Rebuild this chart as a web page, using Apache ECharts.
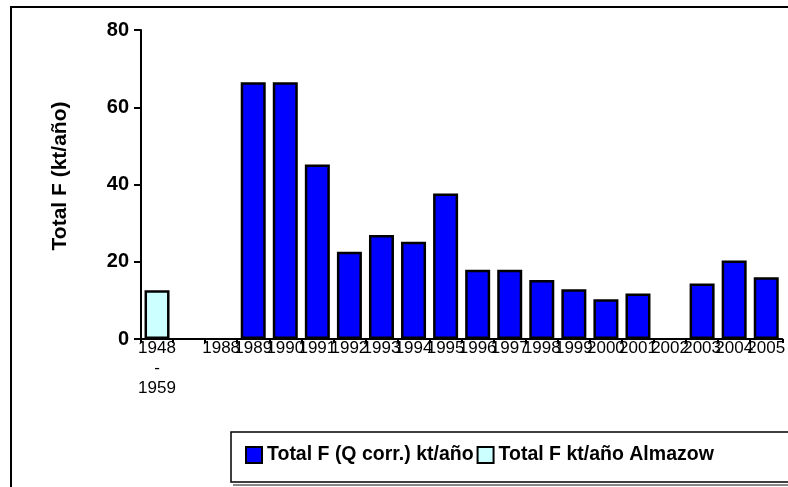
<!DOCTYPE html>
<html>
<head>
<meta charset="utf-8">
<script src="https://cdn.jsdelivr.net/npm/echarts@6/dist/echarts.min.js"></script>
<style>html,body{margin:0;padding:0;background:#fff;}#c{width:788px;height:487px;}</style>
</head>
<body>
<div id="c"></div>
<script>
const categories = ["1948\n-\n1959", "", "1988", "1989", "1990", "1991", "1992", "1993", "1994", "1995", "1996", "1997", "1998", "1999", "2000", "2001", "2002", "2003", "2004", "2005"];
const totalFQcorr = [null, null, null, 66.5, 66.5, 45.2, 22.6, 26.9, 25.2, 37.7, 17.9, 17.9, 15.3, 12.9, 10.3, 11.8, null, 14.4, 20.3, 16.0];
const totalFAlmazow = [12.6, null, null, null, null, null, null, null, null, null, null, null, null, null, null, null, null, null, null, null];
const yTicks = [0, 20, 40, 60, 80];
const seriesNames = ["Total F (Q corr.) kt/año", "Total F kt/año Almazow"];
const yTitle = "Total F (kt/año)";

const chart = echarts.init(document.getElementById('c'), null, {renderer: 'canvas'});
chart.setOption({
  animation: false,
  backgroundColor: '#ffffff',
  grid: {left: 141, right: 0, top: 30, bottom: 148, containLabel: false},
  graphic: [
    {type: 'rect', shape: {x: 11, y: 7, width: 820, height: 520}, style: {fill: 'none', stroke: '#000', lineWidth: 2}, z: 0},
    {type: 'rect', shape: {x: 233, y: 484, width: 600, height: 2}, style: {fill: '#888'}, z: 1},
    {type: 'rect', shape: {x: 231, y: 432, width: 600, height: 50}, style: {fill: '#fff', stroke: '#000', lineWidth: 1.5}, z: 1},
    {type: 'text', x: 60, y: 176, rotation: Math.PI / 2,
     style: {text: yTitle, fontFamily: 'Liberation Sans, Arial, sans-serif', fontWeight: 'bold', fontSize: 21, fill: '#000', align: 'center', verticalAlign: 'middle'}, z: 5}
  ],
  legend: {
    left: 240, top: 440,
    itemWidth: 16, itemHeight: 16, itemGap: 3,
    icon: 'rect',
    itemStyle: {borderColor: '#000', borderWidth: 2},
    textStyle: {fontFamily: 'Liberation Sans, Arial, sans-serif', fontWeight: 'bold', fontSize: 19.5, color: '#000'},
    data: seriesNames,
    z: 5
  },
  xAxis: {
    type: 'category',
    data: categories,
    axisLine: {lineStyle: {color: '#000', width: 2}},
    axisTick: {show: true, alignWithLabel: false, length: 4, lineStyle: {color: '#000', width: 2}, interval: 0},
    axisLabel: {interval: 0, margin: -1, fontFamily: 'Liberation Sans Narrow, Arial Narrow, sans-serif', fontSize: 17, lineHeight: 20, color: '#000', verticalAlign: 'top'}
  },
  yAxis: {
    type: 'value', min: 0, max: 80, interval: 20,
    axisLine: {show: true, lineStyle: {color: '#000', width: 2}},
    axisTick: {show: true, length: 7, lineStyle: {color: '#000', width: 2}},
    splitLine: {show: false},
    axisLabel: {margin: 12, fontFamily: 'Liberation Sans, Arial, sans-serif', fontWeight: 'bold', fontSize: 20, color: '#000',
      formatter: v => yTicks.includes(v) ? String(v) : ''}
  },
  series: [
    {name: seriesNames[0], type: 'bar', stack: 's', data: totalFQcorr, barWidth: 25,
     itemStyle: {color: '#0000ff', borderColor: '#000', borderWidth: 2.5}},
    {name: seriesNames[1], type: 'bar', stack: 's', data: totalFAlmazow, barWidth: 25,
     itemStyle: {color: '#ccffff', borderColor: '#000', borderWidth: 2.5}}
  ]
});
</script>
</body>
</html>
